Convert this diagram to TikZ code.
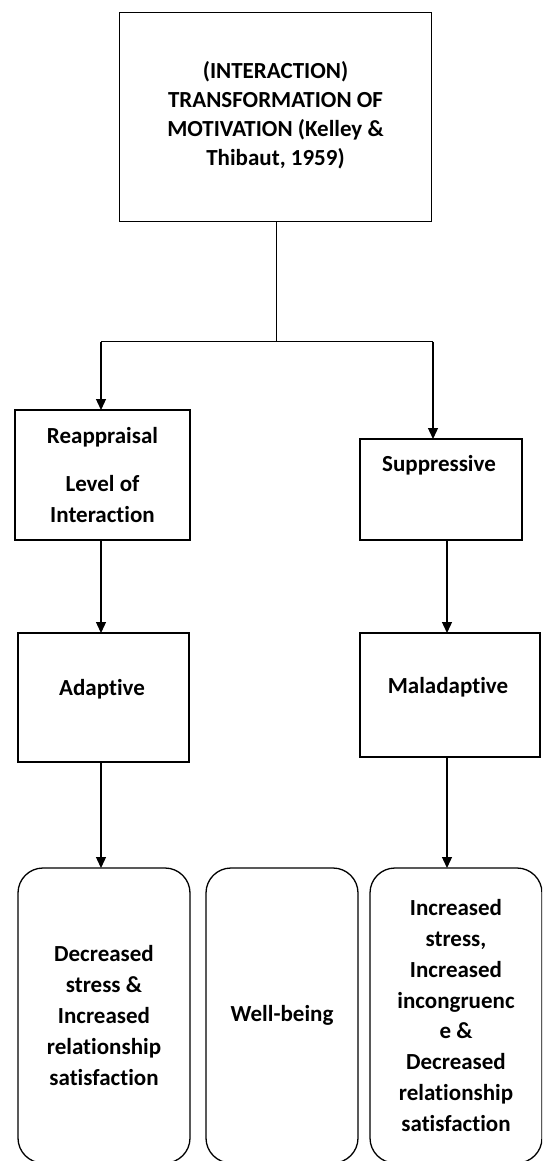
\documentclass[tikz,border=0pt]{standalone}
\usepackage{fontspec}
\setmainfont{Carlito}[Ligatures=NoCommon]
\usetikzlibrary{arrows.meta}
\begin{document}
\begin{tikzpicture}[x=1pt,y=-1pt,
  box/.style={draw=black, line width=1.3pt, inner sep=0pt, outer sep=0pt, align=center,
    font=\fontsize{23}{30.8}\selectfont\bfseries},
  rbox/.style={box, rounded corners=25pt},
  txt/.style={inner sep=0pt, outer sep=0pt, align=center, font=\fontsize{23}{30.8}\selectfont\bfseries},
  conn/.style={draw=black, line width=1.3pt},
  arr/.style={conn, -{Triangle[width=10pt,length=11pt]}}]
\clip (0,0) rectangle (542,1161);
\fill[white] (0,0) rectangle (542,1161);
% boxes
\node[box, minimum width=312pt, minimum height=209pt] (top) at (275.5,117.3) {};
\node[txt, font=\fontsize{23}{29}\selectfont\bfseries] (toptxt) at (275.5,115.5)
  {(INTERACTION)\\TRANSFORMATION OF\\MOTIVATION (Kelley \&\\Thibaut, 1959)};
\node[box, minimum width=175pt, minimum height=130pt] (reap) at (102.5,475)
  {Reappraisal\\[17pt]Level of\\Interaction};
\node[box, minimum width=162pt, minimum height=101pt] (supp) at (441,489.5) {};
\node[txt, anchor=base] (supptxt) at (439,471) {Suppressive};
\node[box, minimum width=171pt, minimum height=129pt] (adap) at (103.5,697.5) {};
\node[txt, anchor=base] (adaptxt) at (102,695.5) {Adaptive};
\node[box, minimum width=180pt, minimum height=124pt] (malad) at (450,695) {};
\node[txt, anchor=base] (maladtxt) at (448,693.8) {Maladaptive};
\node[rbox, minimum width=172pt, minimum height=295pt] (out1) at (104,1015.5)
  {Decreased\\stress \&\\Increased\\relationship\\satisfaction};
\node[rbox, minimum width=152pt, minimum height=295pt] (out2) at (282,1015.5)
  {Well-being};
\node[rbox, minimum width=172pt, minimum height=295pt] (out3) at (456,1015.5)
  {Increased\\stress,\\Increased\\incongruenc\\e \&\\Decreased\\relationship\\satisfaction};
% connector geometry
\coordinate (junc) at (276.7,341.7);
\coordinate (xl) at (101,0);
\coordinate (xr) at (433,0);
\coordinate (xr2) at (447,0);
\draw[conn] (top.south -| junc) -- (junc);
\draw[conn] (junc -| xl) -- (junc -| xr);
\draw[arr] (junc -| xl) -- (reap.north -| xl);
\draw[arr] (junc -| xr) -- (supp.north -| xr);
\draw[arr] (reap.south -| xl) -- (adap.north -| xl);
\draw[arr] (supp.south -| xr2) -- (malad.north -| xr2);
\draw[arr] (adap.south -| xl) -- (out1.north -| xl);
\draw[arr] (malad.south -| xr2) -- (out3.north -| xr2);
\end{tikzpicture}
\end{document}
